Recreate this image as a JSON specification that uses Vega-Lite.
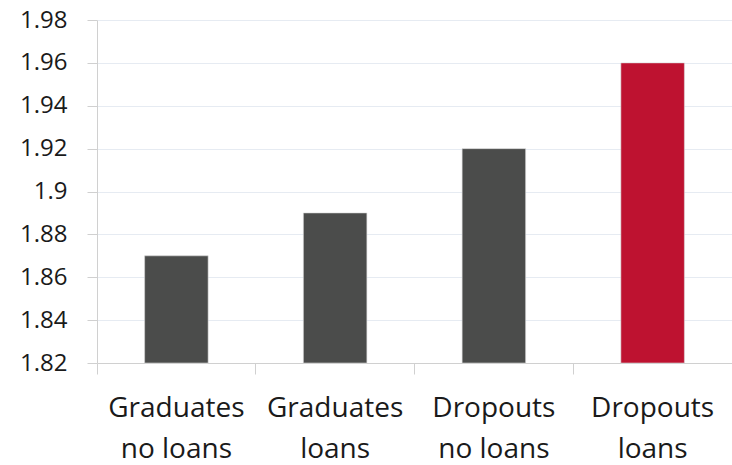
{
  "$schema": "https://vega.github.io/schema/vega-lite/v6.json",
  "width": 635,
  "height": 343,
  "autosize": {"type": "none"},
  "padding": {"left": 97, "top": 20, "right": 0, "bottom": 102},
  "background": "white",
  "config": {"view": {"stroke": null}},
  "data": {
    "values": [
      {"group": "Graduates\nno loans", "value": 1.87, "color": "#4b4c4b"},
      {"group": "Graduates\nloans", "value": 1.89, "color": "#4b4c4b"},
      {"group": "Dropouts\nno loans", "value": 1.92, "color": "#4b4c4b"},
      {"group": "Dropouts\nloans", "value": 1.96, "color": "#be1230"}
    ]
  },
  "mark": {"type": "bar", "width": {"band": 0.4}, "stroke": "#d8d8d8", "strokeWidth": 0.6},
  "encoding": {
    "x": {
      "field": "group",
      "type": "nominal",
      "sort": null,
      "scale": {"paddingInner": 0, "paddingOuter": 0},
      "axis": {
        "title": null,
        "labelAngle": 0,
        "labelExpr": "split(datum.label, '\\n')",
        "labelFont": "Open Sans",
        "labelFontSize": 28,
        "labelColor": "#1a1a1a",
        "labelLineHeight": 41,
        "labelPadding": 20,
        "labelBaseline": "top",
        "bandPosition": 0,
        "tickSize": 11,
        "tickColor": "#d0d0d0",
        "domainColor": "#d0d0d0",
        "grid": false
      }
    },
    "y": {
      "field": "value",
      "type": "quantitative",
      "scale": {"domain": [1.82, 1.98], "zero": false},
      "axis": {
        "title": null,
        "values": [1.82, 1.84, 1.86, 1.88, 1.9, 1.92, 1.94, 1.96, 1.98],
        "format": "~g",
        "labelFont": "Open Sans",
        "labelFontSize": 24,
        "labelColor": "#1a1a1a",
        "labelPadding": 20,
        "tickSize": 10,
        "tickColor": "#d0d0d0",
        "domainColor": "#d0d0d0",
        "grid": true,
        "gridColor": "#e6ebf2",
        "gridWidth": 1
      }
    },
    "y2": {"datum": 1.82},
    "color": {"field": "color", "type": "nominal", "scale": null, "legend": null}
  }
}
